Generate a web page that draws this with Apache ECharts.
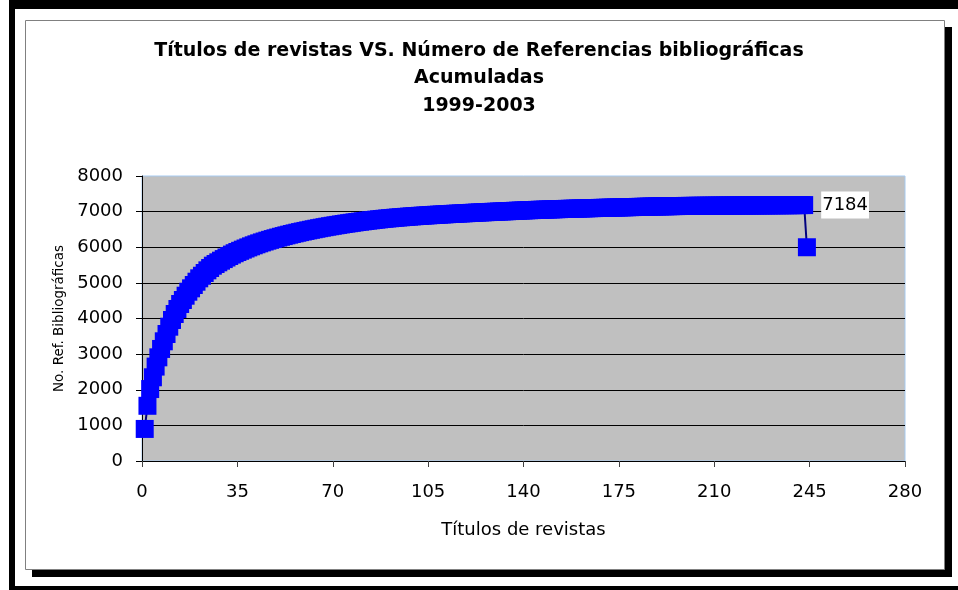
<!DOCTYPE html>
<html>
<head>
<meta charset="utf-8">
<style>
  html, body { margin: 0; padding: 0; background: #fff; }
  #chart { width: 958px; height: 590px; }
</style>
<script src="https://cdn.jsdelivr.net/npm/echarts@6/dist/echarts.min.js"></script>
</head>
<body>
<div id="chart"></div>
<script>
// Referencias acumuladas por título de revista (titulo 1..244)
const acumuladas = [
  900, 1550, 2020, 2350, 2650, 2910, 3145, 3360, 3565, 3770,
  3958, 4126, 4266, 4407, 4520, 4640, 4752, 4847, 4940, 5033,
  5128, 5200, 5277, 5352, 5417, 5482, 5530, 5577, 5623, 5668,
  5712, 5754, 5794, 5832, 5867, 5900, 5933, 5965, 5996, 6026,
  6055, 6083, 6110, 6136, 6161, 6185, 6208, 6230, 6252, 6273,
  6294, 6314, 6334, 6353, 6372, 6390, 6408, 6425, 6442, 6458,
  6474, 6490, 6505, 6520, 6535, 6549, 6563, 6577, 6590, 6603,
  6616, 6628, 6640, 6652, 6664, 6675, 6686, 6697, 6708, 6718,
  6728, 6738, 6748, 6757, 6766, 6775, 6784, 6792, 6800, 6808,
  6815, 6822, 6829, 6836, 6842, 6848, 6854, 6860, 6866, 6872,
  6877, 6882, 6887, 6892, 6897, 6902, 6907, 6911, 6915, 6920,
  6924, 6929, 6933, 6937, 6941, 6945, 6949, 6953, 6957, 6961,
  6965, 6969, 6973, 6977, 6980, 6984, 6988, 6991, 6995, 6998,
  7002, 7005, 7009, 7012, 7016, 7019, 7023, 7026, 7030, 7033,
  7037, 7040, 7043, 7046, 7049, 7052, 7054, 7057, 7060, 7062,
  7065, 7068, 7070, 7073, 7075, 7077, 7080, 7082, 7084, 7087,
  7089, 7091, 7093, 7096, 7098, 7100, 7102, 7104, 7106, 7108,
  7110, 7112, 7114, 7116, 7118, 7120, 7122, 7124, 7126, 7128,
  7130, 7132, 7134, 7136, 7138, 7140, 7142, 7144, 7146, 7147,
  7149, 7150, 7152, 7153, 7155, 7156, 7157, 7158, 7159, 7160,
  7161, 7161, 7162, 7163, 7163, 7164, 7165, 7165, 7166, 7167,
  7167, 7168, 7169, 7169, 7170, 7171, 7171, 7172, 7172, 7173,
  7173, 7174, 7174, 7175, 7175, 7176, 7176, 7177, 7177, 7178,
  7178, 7179, 7179, 7180, 7180, 7181, 7181, 7182, 7182, 7183,
  7183, 7184, 7184, 6000
];
const etiquetaTitulo = 243; // punto con la etiqueta 7184
const xTicks = [0, 35, 70, 105, 140, 175, 210, 245, 280];
const yTicks = [0, 1000, 2000, 3000, 4000, 5000, 6000, 7000, 8000];

const chartDom = document.getElementById("chart");
const myChart = echarts.init(chartDom, null, { renderer: "canvas" });

const fuente = "DejaVu Sans";

// pares [titulo, acumulado]
const puntos = acumuladas.map((v, i) => {
  const titulo = i + 1;
  if (titulo === etiquetaTitulo) {
    return {
      value: [titulo, v],
      label: {
        show: true,
        position: "right",
        distance: 8,
        formatter: (p) => String(p.value[1]),
        backgroundColor: "#ffffff",
        padding: [5, 1, 4, 1],
        color: "#000",
        fontFamily: fuente,
        fontSize: 18,
      },
    };
  }
  return [titulo, v];
});

const option = {
  animation: false,
  backgroundColor: "#ffffff",
  graphic: [
    // marco exterior
    { type: "rect", z: -10, shape: { x: 9, y: 0, width: 949, height: 9 }, style: { fill: "#000" } },
    { type: "rect", z: -10, shape: { x: 9, y: 0, width: 6, height: 590 }, style: { fill: "#000" } },
    { type: "rect", z: -10, shape: { x: 9, y: 586, width: 949, height: 4 }, style: { fill: "#000" } },
    // sombra y caja del grafico
    { type: "rect", z: -10, shape: { x: 32, y: 27, width: 920, height: 550 }, style: { fill: "#000" } },
    { type: "rect", z: -9, shape: { x: 25.5, y: 20.5, width: 919, height: 549 }, style: { fill: "#fff", stroke: "#808080", lineWidth: 1 } },
  ],
  title: {
    text: "Títulos de revistas VS. Número de Referencias bibliográficas\nAcumuladas\n1999-2003",
    left: "center",
    top: 32,
    padding: [5, 5, 5, 19],
    textStyle: {
      fontFamily: fuente,
      fontWeight: "bold",
      fontSize: 19,
      lineHeight: 27.5,
      color: "#000",
    },
  },
  grid: {
    left: 142,
    right: 53,
    top: 176,
    bottom: 129,
    show: true,
    backgroundColor: "#c0c0c0",
    borderColor: "#a6caf0",
    borderWidth: 1,
  },
  xAxis: {
    type: "value",
    min: xTicks[0],
    max: xTicks[xTicks.length - 1],
    interval: xTicks[1] - xTicks[0],
    name: "Títulos de revistas",
    nameLocation: "middle",
    nameGap: 60,
    nameTextStyle: { fontFamily: fuente, fontSize: 18, color: "#000" },
    axisLine: { lineStyle: { color: "#000", width: 1 } },
    axisTick: { show: true, length: 6, lineStyle: { color: "#404040" } },
    axisLabel: { fontFamily: fuente, fontSize: 18, color: "#000", margin: 22 },
    splitLine: { show: false },
  },
  yAxis: {
    type: "value",
    min: yTicks[0],
    max: yTicks[yTicks.length - 1],
    interval: yTicks[1] - yTicks[0],
    name: "No. Ref. Bibliográficas",
    nameLocation: "middle",
    nameGap: 63,
    nameTextStyle: { fontFamily: fuente, fontSize: 13.5, color: "#000" },
    axisLine: { show: true, lineStyle: { color: "#000", width: 1 } },
    axisTick: { show: true, length: 6, lineStyle: { color: "#000" } },
    axisLabel: {
      fontFamily: fuente,
      fontSize: 18,
      color: "#000",
      margin: 19,
      formatter: (v) => String(v),
    },
    splitLine: {
      show: true,
      showMinLine: false,
      showMaxLine: false,
      lineStyle: { color: "#000", width: 1 },
    },
  },
  series: [
    {
      name: "Acumuladas",
      type: "line",
      data: puntos,
      clip: false,
      showSymbol: true,
      showAllSymbol: true,
      symbol: "rect",
      symbolSize: 18,
      itemStyle: { color: "#0000ff" },
      lineStyle: { color: "#000080", width: 2 },
      emphasis: { disabled: true },
      z: 3,
    },
  ],
};

myChart.setOption(option);

window.addEventListener("resize", () => {
  myChart.resize();
});
</script>
</body>
</html>
